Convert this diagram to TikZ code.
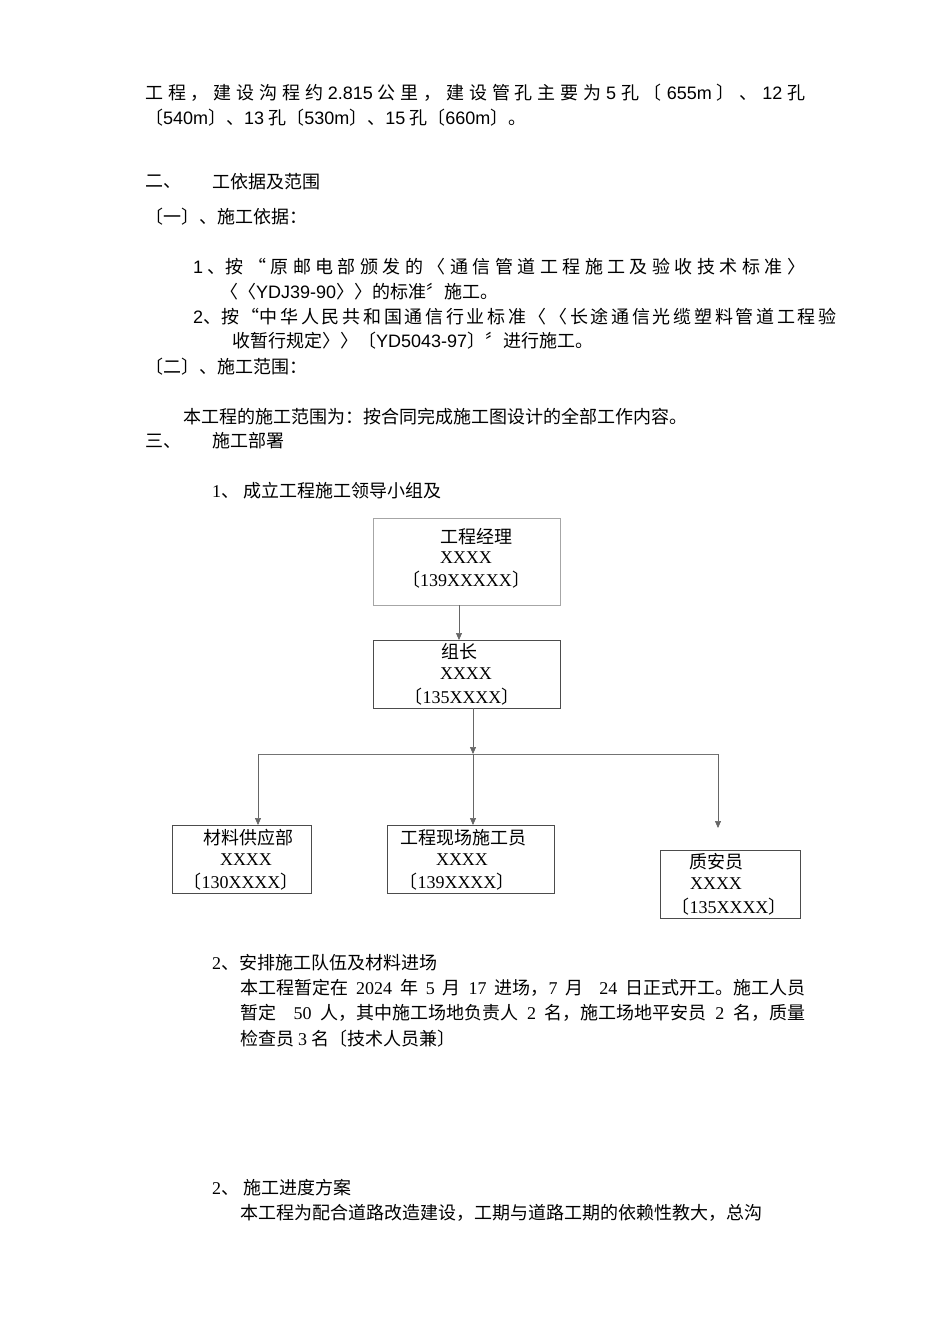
\documentclass[tikz,border=0pt]{standalone}
\usepackage{fontspec}
\setmainfont{Noto Sans CJK SC}
\newfontfamily\lat{Liberation Serif}
\newfontfamily\lsans{Liberation Sans}
\usetikzlibrary{arrows.meta}
\begin{document}
\begin{tikzpicture}[x=1pt,y=-1pt,
  every node/.style={inner sep=0,font=\fontsize{18}{20}\selectfont},
  tx/.style={anchor=west},
  bx/.style={draw=black!70,line width=0.6pt},
  ln/.style={draw=black!55,line width=0.6pt},
  ar/.style={ln,-{Triangle[length=7pt,width=6pt]},draw=black!60}]
\useasboundingbox[fill=white] (0,0) rectangle (950,1344);
\node[tx] (l1) at (145,93) {\makebox[660pt][s]{工 程 ， 建 设 沟 程 约 {\lsans 2.815} 公 里 ， 建 设 管 孔 主 要 为 {\lsans 5} 孔 〔 {\lsans 655m} 〕 、 {\lsans 12} 孔}};
\node[tx] (l2) at (145,118) {〔{\lsans 540m}〕、{\lsans 13} 孔〔{\lsans 530m}〕、{\lsans 15} 孔〔{\lsans 660m}〕。};
\node[tx] (h2a) at (145,182) {二、};
\node[tx] (h2b) at (212,182) {工依据及范围};
\node[tx] (s1) at (145,217) {〔一〕、施工依据：};
\node[tx] (p1) at (193,267) {\makebox[612pt][s]{{\lsans 1} 、按 “ 原 邮 电 部 颁 发 的 〈 通 信 管 道 工 程 施 工 及 验 收 技 术 标 准 〉}};
\node[tx] (p1b) at (220,292) {〈〈{\lsans YDJ39-90}〉〉的标准〞施工。};
\node[tx] (p2) at (193,317) {\makebox[612pt][s]{{\lsans 2}、按 “中 华 人 民 共 和 国 通 信 行 业 标 准 〈 〈 长 途 通 信 光 缆 塑 料 管 道 工 程 验}};
\node[tx] (p2b) at (232,341) {收暂行规定〉〉〔{\lsans YD5043-97}〕〞进行施工。};
\node[tx] (s2) at (145,367) {〔二〕、施工范围：};
\node[tx] (p3) at (183,417) {本工程的施工范围为：按合同完成施工图设计的全部工作内容。};
\node[tx] (h3a) at (145,441) {三、};
\node[tx] (h3b) at (212,441) {施工部署};
\node[tx] (p4) at (212,491) {{\lat 1}、 成立工程施工领导小组及};
% chart
\draw[bx,draw=black!35] (373,518) rectangle (560,605);
\node (m1) at (476,537) {工程经理};
\node (m2) at (466,558) {\lat XXXX};
\node (m3) at (466,580) {〔{\lat 139XXXXX}〕};
\draw[bx] (373,640) rectangle (560,708);
\node (g1) at (459,652) {组长};
\node (g2) at (466,674) {\lat XXXX};
\node (g3) at (462,697) {〔{\lat 135XXXX}〕};
\coordinate (a1) at (459,605); \coordinate (a2) at (459,640);
\draw[ar] (a1) -- (a2);
\coordinate (b1) at (473,708); \coordinate (b2) at (473,754);
\draw[ar] (b1) -- (b2);
\coordinate (hl) at (258,754); \coordinate (hr) at (718,754);
\draw[ln] (hl) -- (hr);
\coordinate (c1) at (258,825); \coordinate (c2) at (473,825); \coordinate (c3) at (718,828);
\draw[ar] (hl) -- (c1);
\draw[ar] (b2) -- (c2);
\draw[ar] (hr) -- (c3);
\draw[bx] (172,825) rectangle (311,893);
\node (d1) at (248,838) {材料供应部};
\node (d2) at (246,860) {\lat XXXX};
\node (d3) at (241,882) {〔{\lat 130XXXX}〕};
\draw[bx] (387,825) rectangle (554,893);
\node (e1) at (463,838) {工程现场施工员};
\node (e2) at (462,860) {\lat XXXX};
\node (e3) at (457,882) {〔{\lat 139XXXX}〕};
\draw[bx] (660,850) rectangle (800,918);
\node (f1) at (716,862) {质安员};
\node (f2) at (716,884) {\lat XXXX};
\node (f3) at (729,907) {〔{\lat 135XXXX}〕};
% after
\node[tx] (q1) at (212,963) {{\lat 2}、安排施工队伍及材料进场};
\node[tx] (q2) at (240,988) {\makebox[565pt][s]{本工程暂定在 {\lat 2024} 年 {\lat 5} 月 {\lat 17} 进场，{\lat 7} 月 \ {\lat 24} 日正式开工。施工人员}};
\node[tx] (q3) at (240,1013) {\makebox[565pt][s]{暂定 \ {\lat 50} 人，其中施工场地负责人 {\lat 2} 名，施工场地平安员 {\lat 2} 名，质量}};
\node[tx] (q4) at (240,1039) {检查员 {\lat 3} 名〔技术人员兼〕};
\node[tx] (r1) at (212,1188) {{\lat 2}、 施工进度方案};
\node[tx] (r2) at (240,1213) {本工程为配合道路改造建设，工期与道路工期的依赖性教大，总沟};
\end{tikzpicture}
\end{document}
